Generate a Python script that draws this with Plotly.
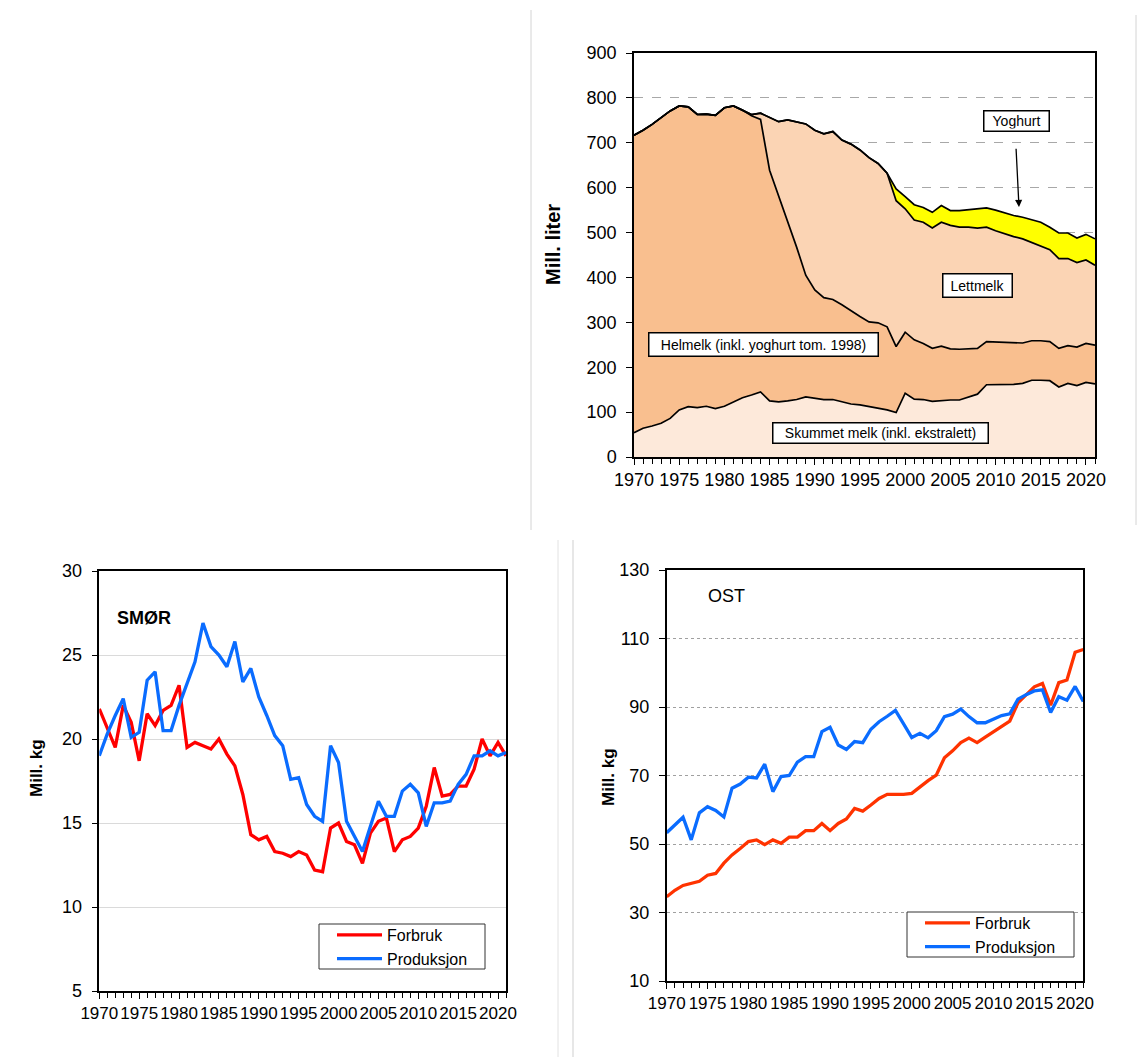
import plotly.graph_objects as go

W, H = 1142, 1057
FONT = "Liberation Sans, Arial, sans-serif"

years = list(range(1970, 2022))
yoghurt_years = list(range(1998, 2022))

# --- Top chart: consumption of milk (Mill. liter), stacked layers ---
skummet = [54, 64, 69, 75, 86, 105, 112, 110, 113, 108,
           113, 123, 132, 138, 145, 125, 123, 125, 128, 134,
           131, 128, 128, 123, 118, 116, 112, 108, 105, 99,
           142, 129, 128, 124, 126, 127, 127, 133, 140, 161,
           161, 161, 162, 164, 171, 171, 170, 156, 164, 159,
           166, 163]
helmelk = [663, 664, 672, 682, 685, 677, 668, 653, 651, 653,
           665, 659, 641, 622, 607, 514, 459, 402, 339, 271,
           241, 227, 223, 216, 207, 197, 189, 191, 185, 147,
           136, 132, 125, 118, 121, 114, 113, 108, 102, 96,
           95, 94, 92, 90, 88, 88, 87, 86, 84, 86,
           87, 86]
lettmelk = [0, 0, 0, 0, 0, 0, 0, 0, 0, 0,
            0, 0, 0, 3, 14, 118, 165, 224, 280, 337,
            356, 365, 374, 367, 372, 371, 366, 355, 342, 325,
            275, 267, 270, 268, 276, 275, 272, 271, 268, 255,
            248, 242, 237, 232, 219, 212, 205, 200, 194, 188,
            186, 178]
yoghurt = [0, 26, 27, 34, 33, 35, 37, 33, 37, 39,
           43, 43, 46, 47, 47, 48, 51, 52, 50, 57,
           57, 55, 57, 59]

# --- Bottom left: SMØR (Mill. kg) ---
smor_forbruk = [21.8, 20.7, 19.5, 22.0, 21.0, 18.7, 21.5, 20.8, 21.7, 22.0,
                23.2, 19.5, 19.8, 19.6, 19.4, 20.0, 19.1, 18.4, 16.7, 14.3,
                14.0, 14.2, 13.3, 13.2, 13.0, 13.3, 13.1, 12.2, 12.1, 14.7,
                15.0, 13.9, 13.7, 12.6, 14.4, 15.1, 15.3, 13.3, 14.0, 14.2,
                14.7, 16.0, 18.3, 16.6, 16.7, 17.2, 17.2, 18.2, 20.0, 19.0,
                19.8, 19.0]
smor_produksjon = [19.0, 20.3, 21.4, 22.4, 20.1, 20.4, 23.5, 24.0, 20.5, 20.5,
                   22.0, 23.3, 24.6, 26.9, 25.5, 25.0, 24.3, 25.8, 23.4, 24.2,
                   22.5, 21.4, 20.2, 19.6, 17.6, 17.7, 16.1, 15.4, 15.1, 19.6,
                   18.6, 15.1, 14.2, 13.3, 14.8, 16.3, 15.4, 15.4, 16.9, 17.3,
                   16.8, 14.8, 16.2, 16.2, 16.3, 17.3, 17.9, 19.0, 19.0, 19.3,
                   19.0, 19.2]

# --- Bottom right: OST (Mill. kg) ---
ost_forbruk = [34.6, 36.5, 37.9, 38.6, 39.1, 40.9, 41.4, 44.4, 46.8, 48.7,
               50.7, 51.2, 49.8, 51.2, 50.2, 52.0, 52.0, 53.9, 53.9, 56.0,
               53.9, 56.0, 57.3, 60.4, 59.6, 61.4, 63.3, 64.5, 64.4, 64.5,
               64.8, 66.7, 68.5, 70.1, 75.2, 77.2, 79.6, 80.9, 79.6, 81.2,
               82.8, 84.3, 85.9, 91.2, 93.7, 95.9, 96.9, 90.5, 97.1, 97.9,
               106.0, 106.8]
ost_produksjon = [53.3, 55.5, 57.8, 51.2, 59.1, 60.9, 59.8, 57.9, 66.3, 67.5,
                  69.5, 69.3, 73.3, 65.3, 69.7, 70.0, 73.9, 75.5, 75.5, 82.8,
                  84.1, 78.9, 77.6, 79.9, 79.6, 83.5, 85.7, 87.3, 89.0, 85.1,
                  81.1, 82.3, 81.0, 83.1, 87.2, 87.9, 89.4, 87.2, 85.4, 85.4,
                  86.4, 87.5, 88.0, 92.3, 93.6, 94.7, 95.0, 88.4, 93.0, 92.0,
                  96.0, 91.6]

fig = go.Figure()

# stacked areas
area_line = dict(color="black", width=1.7)
fig.add_trace(go.Scatter(x=years, y=skummet, stackgroup="melk", mode="lines",
                         line=area_line, fillcolor="#FDE9DA", showlegend=False,
                         name="Skummet melk", xaxis="x", yaxis="y"))
fig.add_trace(go.Scatter(x=years, y=helmelk, stackgroup="melk", mode="lines",
                         line=area_line, fillcolor="#F9BF8F", showlegend=False,
                         name="Helmelk", xaxis="x", yaxis="y"))
fig.add_trace(go.Scatter(x=years, y=lettmelk, stackgroup="melk", mode="lines",
                         line=area_line, fillcolor="#FBD4B4", showlegend=False,
                         name="Lettmelk", xaxis="x", yaxis="y"))
fig.add_trace(go.Scatter(x=yoghurt_years, y=yoghurt, stackgroup="melk", mode="lines",
                         line=area_line, fillcolor="#FFFF00", showlegend=False,
                         name="Yoghurt", xaxis="x", yaxis="y"))

# SMØR
fig.add_trace(go.Scatter(x=years, y=smor_forbruk, mode="lines", name="Forbruk",
                         line=dict(color="#FF0000", width=3.3),
                         xaxis="x2", yaxis="y2", legend="legend"))
fig.add_trace(go.Scatter(x=years, y=smor_produksjon, mode="lines", name="Produksjon",
                         line=dict(color="#0A6CFF", width=3.3),
                         xaxis="x2", yaxis="y2", legend="legend"))

# OST
fig.add_trace(go.Scatter(x=years, y=ost_forbruk, mode="lines", name="Forbruk",
                         line=dict(color="#FF3300", width=3.3),
                         xaxis="x3", yaxis="y3", legend="legend2"))
fig.add_trace(go.Scatter(x=years, y=ost_produksjon, mode="lines", name="Produksjon",
                         line=dict(color="#0A6CFF", width=3.3),
                         xaxis="x3", yaxis="y3", legend="legend2"))


def px_dom_x(a, b):
    return [a / W, b / W]


def px_dom_y(top, bottom):
    return [1 - bottom / H, 1 - top / H]


def xaxis(dom, anchor, size):
    return dict(domain=dom, anchor=anchor, range=[1970, 2021], tick0=1970, dtick=5,
                ticks="outside", ticklen=6, tickwidth=1, tickcolor="black",
                minor=dict(dtick=1, ticks="outside", ticklen=5, tickwidth=1,
                           tickcolor="black", showgrid=False),
                showline=True, mirror=True, linecolor="black", linewidth=1.5,
                showgrid=False, zeroline=False, tickangle=0, automargin=False,
                tickfont=dict(size=size, color="black", family=FONT))


def yaxis(dom, anchor, rng, dtick, tick0, gridcolor, griddash, size):
    return dict(domain=dom, anchor=anchor, range=rng, dtick=dtick, tick0=tick0,
                ticks="outside", ticklen=6, tickwidth=1, tickcolor="black",
                showline=True, mirror=True, linecolor="black", linewidth=1.5,
                showgrid=True, gridcolor=gridcolor, griddash=griddash, gridwidth=1,
                zeroline=False, ticklabelstandoff=6, automargin=False,
                tickfont=dict(size=size, color="black", family=FONT))


box = dict(bordercolor="black", borderwidth=1.5, bgcolor="white", borderpad=2,
           showarrow=False, font=dict(size=14, color="black", family=FONT),
           xref="x", yref="y", xanchor="center", yanchor="middle")


def paper_text(text, px, py, size, angle=0):
    return dict(text=text, x=px / W, y=1 - py / H, xref="paper", yref="paper",
                xanchor="center", yanchor="middle", textangle=angle, showarrow=False,
                font=dict(size=size, color="black", family=FONT))


annotations = [
    dict(text="Helmelk (inkl. yoghurt tom. 1998)", x=1984.36, y=250, width=224, height=18, **box),
    dict(text="Skummet melk (inkl. ekstralett)", x=1997.27, y=53.5, width=210, height=15, **box),
    dict(text="Lettmelk", x=2007.95, y=381, width=64, height=18, **box),
    dict(text="Yoghurt", x=2012.34, y=748, width=60, height=15, **box),
    dict(text="", x=2012.59, y=557, ax=2012.26, ay=690, xref="x", yref="y",
         axref="x", ayref="y", showarrow=True, arrowhead=2, arrowsize=1.1,
         arrowwidth=1.3, arrowcolor="black"),
    paper_text("<b>Mill. liter</b>", 553, 245, 20, -90),
    paper_text("<b>Mill. kg</b>", 36, 768, 17, -90),
    paper_text("<b>Mill. kg</b>", 608, 777, 17, -90),
    paper_text("<b>SMØR</b>", 144, 618, 18),
    paper_text("OST", 726, 596, 18),
]


def vline(px, top, bottom, color):
    return dict(type="line", xref="paper", yref="paper", x0=px / W, x1=px / W,
                y0=1 - bottom / H, y1=1 - top / H, line=dict(color=color, width=1))


def legend_box(x0, y0, x1, y1):
    return dict(type="rect", xref="paper", yref="paper", layer="above",
                x0=x0 / W, x1=x1 / W, y0=1 - y1 / H, y1=1 - y0 / H,
                line=dict(color="#333333", width=1), fillcolor="white")


shapes = [
    vline(531, 10, 530, "#D4D4D4"),
    vline(1136, 15, 525, "#D4D4D4"),
    vline(558, 540, 1057, "#E2E2E2"),
    vline(573, 540, 1057, "#CFCFCF"),
    legend_box(319, 924, 485, 969),
    legend_box(907, 912, 1074, 957),
]

legend_common = dict(xanchor="left", yanchor="top", borderwidth=0,
                     bgcolor="rgba(0,0,0,0)", traceorder="normal",
                     font=dict(size=16, color="black", family=FONT),
                     itemwidth=45, tracegroupgap=0)

fig.update_layout(
    width=W, height=H, margin=dict(l=0, r=0, t=0, b=0, autoexpand=False),
    paper_bgcolor="white", plot_bgcolor="white",
    font=dict(family=FONT, color="black"),
    xaxis=xaxis(px_dom_x(634, 1095), "y", 18),
    yaxis=yaxis(px_dom_y(53, 457), "x", [0, 900], 100, 0, "#A8A8A8", "dash", 18),
    xaxis2=xaxis(px_dom_x(99.3, 506), "y2", 17),
    yaxis2=yaxis(px_dom_y(571, 991), "x2", [5, 30], 5, 5, "#DADADA", "solid", 18),
    xaxis3=xaxis(px_dom_x(666.7, 1083.3), "y3", 17),
    yaxis3=yaxis(px_dom_y(570, 981), "x3", [10, 130], 20, 10, "#A0A0A0", "dot", 18),
    legend=dict(x=332 / W, y=1 - 918 / H, **legend_common),
    legend2=dict(x=920 / W, y=1 - 906 / H, **legend_common),
    annotations=annotations,
    shapes=shapes,
)

fig.write_html("out.html", config={"displayModeBar": False},
               post_script="document.body.style.margin='0';document.body.style.overflow='hidden';")
